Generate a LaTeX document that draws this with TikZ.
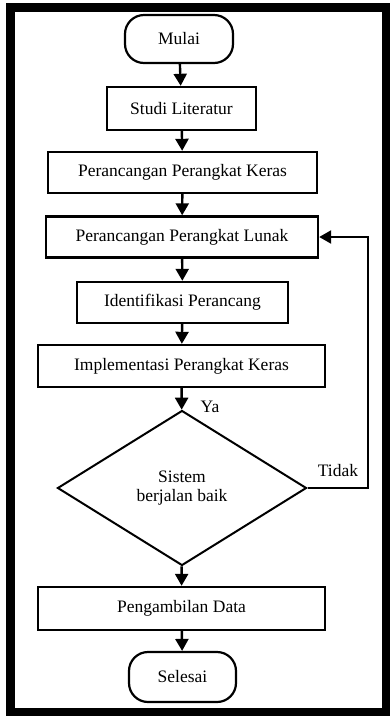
\documentclass[tikz,border=0pt]{standalone}
\usepackage{fontspec}
\setmainfont{Liberation Serif}
\usetikzlibrary{arrows.meta,shapes.geometric}
\begin{document}
\begin{tikzpicture}[x=1pt,y=-1pt,
  every node/.style={font=\fontsize{17.5}{19.5}\selectfont},
  procbox/.style={draw,line width=2.4pt,rectangle,inner sep=0pt,minimum height=41pt},
  termbox/.style={draw,line width=2.2pt,rectangle,rounded corners=19pt,inner sep=0pt,minimum height=48pt},
  decbox/.style={draw,line width=2pt,diamond,inner sep=0pt,minimum width=249pt,minimum height=155pt,align=center},
  flow/.style={line width=2.4pt,-{Triangle[length=12pt,width=13pt]}},
  lbl/.style={inner sep=0pt}]
\useasboundingbox (0,0) rectangle (390,716);
\draw[line width=8.5pt] (10.5,7.5) rectangle (386.5,712.5);

\node[termbox,minimum width=108pt] (mulai) at (179,39) {Mulai};
\node[procbox,minimum width=149pt,minimum height=43pt] (studi) at (181.5,108.5) {Studi Literatur};
\node[procbox,minimum width=269pt] (keras) at (182.5,172.5) {Perancangan Perangkat Keras};
\node[procbox,minimum width=272pt] (lunak) at (182,237) {Perancangan Perangkat Lunak};
\node[procbox,minimum width=211pt] (ident) at (182.5,302.5) {Identifikasi Perancang};
\node[procbox,minimum width=287pt,minimum height=42pt] (impl) at (181.5,366) {Implementasi Perangkat Keras};
\node[decbox] (dec) at (182,488) {Sistem\\berjalan baik};
\node[procbox,minimum width=287pt,minimum height=43pt] (ambil) at (181.5,608.5) {Pengambilan Data};
\node[termbox,minimum width=107pt,minimum height=50pt] (selesai) at (182.5,677) {Selesai};

\node[lbl] (ya) at (210,407) {Ya};
\node[lbl] (tidak) at (338,471) {Tidak};
\coordinate (loop) at (368,237);

\draw[flow] (mulai) -- (studi);
\draw[flow] (studi) -- (keras);
\draw[flow] (keras) -- (lunak);
\draw[flow] (lunak) -- (ident);
\draw[flow] (ident) -- (impl);
\draw[flow] (impl) -- (dec);
\draw[flow] (dec) -- (ambil);
\draw[flow] (ambil) -- (selesai);
\draw[flow] (dec.east) -| (loop) -- (lunak.east);
\end{tikzpicture}
\end{document}
